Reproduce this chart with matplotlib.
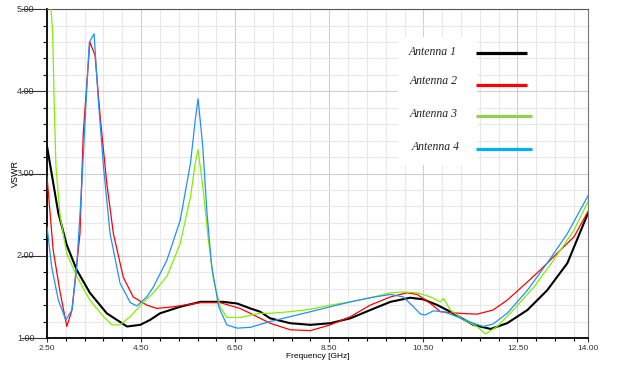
import numpy as np
import matplotlib.pyplot as plt
from matplotlib.patches import Rectangle
from matplotlib.ticker import MultipleLocator, FixedLocator

# Antenna 1
f1 = [2.50, 2.74, 2.92, 3.13, 3.41, 3.77, 4.20, 4.48, 4.69, 4.90, 5.33, 5.76, 6.24, 6.54,
      6.82, 7.03, 7.24, 7.67, 8.10, 8.52, 8.95, 9.37, 9.80, 10.22, 10.50, 10.80, 11.07,
      11.56, 11.93, 12.28, 12.71, 13.13, 13.56, 14.00]
v1 = [3.33, 2.52, 2.13, 1.83, 1.55, 1.30, 1.14, 1.16, 1.22, 1.30, 1.38, 1.44, 1.44, 1.42,
      1.36, 1.32, 1.24, 1.18, 1.16, 1.18, 1.24, 1.34, 1.44, 1.49, 1.47, 1.40, 1.32,
      1.16, 1.11, 1.18, 1.34, 1.58, 1.91, 2.52]

# Antenna 2
f2 = [2.50, 2.63, 2.78, 2.92, 3.03, 3.20, 3.27, 3.41, 3.52, 3.63, 3.77, 3.91, 4.12, 4.33,
      4.62, 4.83, 5.19, 5.76, 6.18, 6.60, 6.82, 7.24, 7.67, 8.10, 8.52, 8.95, 9.37, 9.80,
      10.15, 10.37, 10.65, 10.86, 11.28, 11.64, 11.98, 12.28, 12.63, 12.99, 13.27, 13.70, 14.00]
v2 = [2.96, 2.07, 1.55, 1.14, 1.34, 2.27, 3.49, 4.60, 4.44, 3.69, 2.88, 2.27, 1.74, 1.50,
      1.40, 1.36, 1.38, 1.43, 1.43, 1.36, 1.30, 1.18, 1.10, 1.09, 1.16, 1.26, 1.40, 1.50,
      1.55, 1.53, 1.42, 1.32, 1.30, 1.29, 1.34, 1.46, 1.64, 1.83, 1.99, 2.23, 2.54]

# Antenna 3
f3 = [2.50, 2.56, 2.62, 2.65, 2.69, 2.78, 2.92, 3.13, 3.41, 3.70, 3.88, 4.05, 4.27, 4.54,
      4.76, 5.05, 5.33, 5.55, 5.65, 5.71, 5.82, 5.93, 6.04, 6.18, 6.32, 6.60, 7.03, 7.24,
      7.67, 8.10, 8.52, 8.95, 9.37, 9.80, 10.07, 10.37, 10.65, 10.86, 10.93, 11.07, 11.36,
      11.64, 11.82, 12.07, 12.41, 12.85, 13.27, 13.70, 14.00]
v3 = [7.50, 5.20, 4.71, 3.89, 3.08, 2.47, 2.03, 1.75, 1.46, 1.26, 1.16, 1.16, 1.26, 1.43,
      1.55, 1.75, 2.15, 2.72, 3.13, 3.29, 2.80, 2.19, 1.71, 1.38, 1.25, 1.25, 1.30, 1.30,
      1.32, 1.35, 1.40, 1.44, 1.49, 1.55, 1.56, 1.55, 1.50, 1.44, 1.48, 1.34, 1.22,
      1.14, 1.05, 1.14, 1.34, 1.62, 1.95, 2.31, 2.66]

# Antenna 4
f4 = [2.50, 2.60, 2.74, 2.90, 3.03, 3.13, 3.24, 3.35, 3.40, 3.50, 3.59, 3.70, 3.84, 4.05,
      4.27, 4.41, 4.62, 4.76, 5.05, 5.33, 5.55, 5.65, 5.71, 5.81, 5.90, 6.00, 6.15, 6.32,
      6.54, 6.82, 7.24, 7.67, 8.10, 8.52, 8.95, 9.37, 9.80, 10.07, 10.29, 10.44, 10.54,
      10.71, 10.93, 11.21, 11.56, 11.77, 11.98, 12.28, 12.71, 13.13, 13.56, 14.00]
v4 = [2.35, 1.86, 1.46, 1.22, 1.34, 1.86, 2.88, 4.10, 4.60, 4.70, 3.89, 3.08, 2.27, 1.67,
      1.43, 1.39, 1.50, 1.62, 1.95, 2.43, 3.13, 3.65, 3.91, 3.33, 2.52, 1.87, 1.38, 1.16,
      1.12, 1.13, 1.20, 1.26, 1.32, 1.38, 1.44, 1.49, 1.53, 1.50, 1.38, 1.29, 1.28,
      1.33, 1.32, 1.26, 1.18, 1.14, 1.17, 1.30, 1.58, 1.91, 2.27, 2.73]

names = ['Antenna 1', 'Antenna 2', 'Antenna 3', 'Antenna 4']
x_major = [2.5, 4.5, 6.5, 8.5, 10.5, 12.5, 14.0]

plt.rcParams['font.family'] = ['Liberation Sans Narrow', 'Liberation Sans', 'DejaVu Sans']

fig = plt.figure(figsize=(6.19, 3.67), dpi=100)
ax = fig.add_axes([0.076, 0.079, 0.874, 0.896])

ax.plot(f1, v1, color='black', lw=1.5, zorder=3)
ax.plot(f2, v2, color='#ff0000', lw=0.9, zorder=4)
ax.plot(f3, v3, color='#80f000', lw=0.9, zorder=4)
ax.plot(f4, v4, color='#2090ff', lw=0.9, zorder=4)

ax.set_xlim(2.5, 14.0)
ax.set_ylim(1.0, 5.0)

ax.xaxis.set_major_locator(FixedLocator(x_major))
ax.xaxis.set_minor_locator(MultipleLocator(0.4, offset=0.1))
ax.yaxis.set_major_locator(MultipleLocator(1.0))
ax.yaxis.set_minor_locator(MultipleLocator(0.2))
ax.set_xticklabels(['%.2f' % x for x in x_major])
ax.set_yticklabels(['%.2f' % y for y in ax.get_yticks()])

ax.grid(which='minor', color='#e8e8e8', lw=0.8, zorder=0)
ax.grid(which='major', color='#cfcfcf', lw=0.8, zorder=0)
ax.set_axisbelow(True)

ax.tick_params(axis='x', which='major', length=3, width=0.8, pad=2, labelsize=6, colors='#333333')
ax.tick_params(axis='x', which='minor', length=2.5, width=0.8)
ax.tick_params(axis='y', which='major', length=19, width=0.8, pad=-10, labelsize=6.5, colors='#333333')
ax.tick_params(axis='y', which='minor', length=3, width=0.8)
for lbl in ax.get_yticklabels():
    lbl.set_verticalalignment('center')

for s in ['left', 'bottom']:
    ax.spines[s].set_linewidth(1.3)
    ax.spines[s].set_color('black')
ax.spines['top'].set_color('#555555')
ax.spines['right'].set_color('#777777')

ax.set_xlabel('Frequency [GHz]', fontsize=6, labelpad=1)
ax.set_ylabel('VSWR', fontsize=6.5)
ax.yaxis.set_label_coords(-0.05, 0.5)

# legend block
ax.add_patch(Rectangle((0.649, 0.526), 0.146, 0.389, transform=ax.transAxes,
                       facecolor='white', edgecolor='none', zorder=2))
leg_x = [0.712, 0.714, 0.715, 0.719]
leg_y = [0.870, 0.781, 0.681, 0.581]
line_y = [0.867, 0.769, 0.675, 0.575]
line_end = [0.887, 0.887, 0.896, 0.896]
leg_colors = ['black', '#ff0000', '#92d050', '#00b0f0']
for i in range(4):
    ax.text(leg_x[i], leg_y[i], names[i], transform=ax.transAxes, ha='center', va='center',
            family='Liberation Serif', style='italic', fontsize=8.5, color='#222222', zorder=5)
    ax.plot([0.793, line_end[i]], [line_y[i], line_y[i]], transform=ax.transAxes,
            color=leg_colors[i], lw=2.3, solid_capstyle='butt', zorder=5)

fig.savefig('out.png', dpi=100)
